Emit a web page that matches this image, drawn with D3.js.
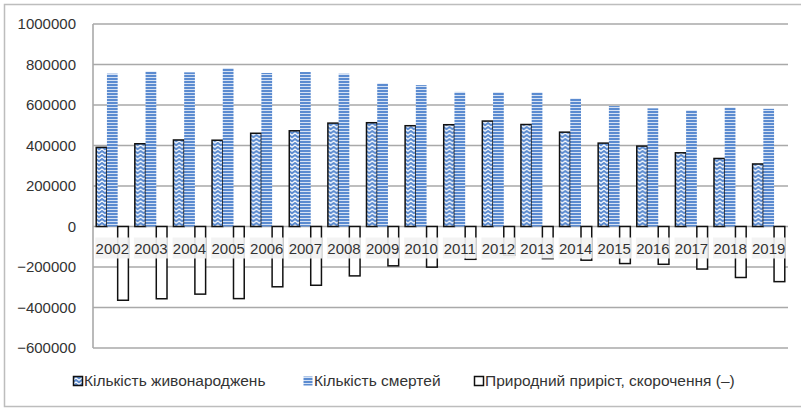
<!DOCTYPE html>
<html lang="uk">
<head>
<meta charset="utf-8">
<title>Births and deaths</title>
<script src="https://cdn.jsdelivr.net/npm/d3@7"></script>
<style>
  body { margin: 0; background: #fff; }
  text { font-family: "Liberation Sans", Arial, sans-serif; fill: #333; }
</style>
</head>
<body>
<div id="chart"></div>
<script>
// data
var years = ["2002","2003","2004","2005","2006","2007","2008","2009","2010","2011","2012","2013","2014","2015","2016","2017","2018","2019"];
var births = [390700, 408600, 427300, 426100, 460400, 472700, 510600, 512500, 497700, 502600, 520700, 503700, 465900, 411800, 397000, 364000, 335900, 308800];
var deaths = [754900, 765400, 761300, 782200, 758100, 762900, 754500, 706700, 698200, 664600, 663100, 662400, 632300, 594800, 583600, 574100, 587700, 581100];
var natural = [-364200, -356800, -334000, -356100, -297700, -290200, -243900, -194200, -200500, -162000, -142400, -158700, -166400, -183000, -186600, -210100, -251800, -272300];
var yTicks = [-600000, -400000, -200000, 0, 200000, 400000, 600000, 800000, 1000000];
var seriesNames = ["Кількість живонароджень", "Кількість смертей", "Природний приріст, скорочення (–)"];

var W = 801, H = 409;
var plot = {left: 93, right: 788, top: 24, bottom: 348};

var svg = d3.select("#chart").append("svg")
    .attr("width", W).attr("height", H);

// patterns
var defs = svg.append("defs");
var pd = defs.append("pattern").attr("id", "deathsPat")
    .attr("patternUnits", "userSpaceOnUse").attr("width", 8).attr("height", 3);
pd.append("rect").attr("width", 8).attr("height", 3).attr("fill", "#5b8bd0");
pd.append("rect").attr("y", 2).attr("width", 8).attr("height", 1).attr("fill", "#d6e2f4");

var pb = defs.append("pattern").attr("id", "birthsPat")
    .attr("patternUnits", "userSpaceOnUse").attr("width", 6).attr("height", 4);
pb.append("rect").attr("width", 6).attr("height", 4).attr("fill", "#5b8bd0");
pb.append("path").attr("d", "M-1,4 L3,1 L7,4").attr("fill", "none")
    .attr("stroke", "#fff").attr("stroke-width", 1.1);

// outer frame
svg.append("rect").attr("x", 4.5).attr("y", 4.5).attr("width", 810).attr("height", 402)
    .attr("fill", "none").attr("stroke", "#bdbdbd").attr("stroke-width", 1.5);

var x = d3.scaleBand().domain(years).range([plot.left, plot.right]).padding(0);
var x1 = d3.scaleBand().domain([0, 1, 2]).range([0, x.bandwidth()])
    .paddingInner(0).paddingOuter(0.3);
var y = d3.scaleLinear().domain([-600000, 1000000]).range([plot.bottom, plot.top]);

// gridlines
svg.append("g").selectAll("line").data(yTicks).enter().append("line")
    .attr("x1", plot.left).attr("x2", plot.right)
    .attr("y1", function(d) { return y(d); })
    .attr("y2", function(d) { return y(d); })
    .attr("stroke", "#a9a9a9").attr("stroke-width", 1.6);
svg.append("line").attr("x1", plot.left).attr("x2", plot.left)
    .attr("y1", plot.top).attr("y2", plot.bottom)
    .attr("stroke", "#a9a9a9").attr("stroke-width", 1.6);

// y axis labels
var yAxis = d3.axisLeft(y).tickValues(yTicks).tickSize(0).tickPadding(17)
    .tickFormat(d3.format("d"));
var ya = svg.append("g").attr("transform", "translate(" + plot.left + ",0)").call(yAxis);
ya.select(".domain").remove();
ya.selectAll("text").attr("font-size", 15).attr("fill", "#404040")
    .attr("font-family", "Liberation Sans, Arial, sans-serif");

// bars
var groups = svg.append("g").selectAll("g").data(years).enter().append("g")
    .attr("transform", function(d) { return "translate(" + x(d) + ",0)"; });

groups.append("rect")
    .attr("x", x1(0)).attr("width", x1.bandwidth())
    .attr("y", function(d, i) { return y(births[i]); })
    .attr("height", function(d, i) { return y(0) - y(births[i]); })
    .attr("fill", "url(#birthsPat)").attr("stroke", "#111").attr("stroke-width", 1.5);

groups.append("rect")
    .attr("x", x1(1)).attr("width", x1.bandwidth())
    .attr("y", function(d, i) { return y(deaths[i]); })
    .attr("height", function(d, i) { return y(0) - y(deaths[i]); })
    .attr("fill", "url(#deathsPat)");

groups.append("rect")
    .attr("x", x1(2)).attr("width", x1.bandwidth())
    .attr("y", y(0))
    .attr("height", function(d, i) { return y(natural[i]) - y(0); })
    .attr("fill", "#fff").attr("stroke", "#111").attr("stroke-width", 1.5);

// category labels with light boxes
var lab = svg.append("g").selectAll("g").data(years).enter().append("g")
    .attr("transform", function(d) { return "translate(" + (x(d) + x.bandwidth() / 2) + "," + (y(0) + 22) + ")"; });
lab.append("rect").attr("x", -17).attr("y", -11).attr("width", 34).attr("height", 21)
    .attr("fill", "#f2f2f2").attr("opacity", 0.92);
lab.append("text").attr("text-anchor", "middle").attr("dy", "0.35em")
    .attr("font-size", 15).attr("fill", "#404040")
    .text(function(d) { return d; });

// legend
var legendX = [73, 303, 474];
var legend = svg.append("g").selectAll("g").data(seriesNames).enter().append("g")
    .attr("transform", function(d, i) { return "translate(" + legendX[i] + ",381)"; });
legend.append("rect").attr("x", 0.5).attr("y", -4.5).attr("width", 9).attr("height", 9)
    .attr("fill", function(d, i) { return i === 0 ? "url(#birthsPat)" : i === 1 ? "url(#deathsPat)" : "#fff"; })
    .attr("stroke", function(d, i) { return i === 1 ? "none" : "#111"; })
    .attr("stroke-width", 1.5);
legend.append("text").attr("x", 11).attr("dy", "0.35em")
    .attr("font-size", 15.5).attr("fill", "#1f1f1f")
    .attr("font-family", "Open Sans, Liberation Sans, sans-serif")
    .text(function(d) { return d; });
</script>
</body>
</html>
